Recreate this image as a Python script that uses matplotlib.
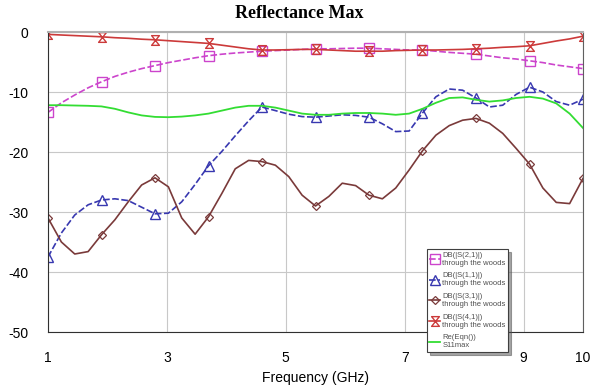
import numpy as np
import matplotlib
matplotlib.use("Agg")
import matplotlib.pyplot as plt
from matplotlib.path import Path

plt.rcParams["axes.unicode_minus"] = False

# frequency grid (GHz), markers sit on every 4th point
freq = np.linspace(1, 10, 41)

s21 = [-13.4, -11.8, -10.5, -9.3, -8.3, -7.4, -6.7, -6.1, -5.6, -5.1, -4.7, -4.3, -3.95, -3.7,
       -3.5, -3.35, -3.2, -3.1, -3.0, -2.9, -2.8, -2.8, -2.75, -2.7, -2.7, -2.8, -2.9, -3.0,
       -3.0, -3.2, -3.4, -3.55, -3.7, -4.0, -4.3, -4.5, -4.8, -5.1, -5.5, -5.8, -6.1]
s11 = [-37.5, -33.5, -30.5, -28.8, -28.0, -27.8, -28.1, -29.2, -30.3, -30.2, -28.3, -25.4, -22.3,
       -19.9, -17.3, -14.8, -12.5, -13.1, -13.7, -14.1, -14.2, -14.0, -13.8, -13.9, -14.2, -15.3,
       -16.6, -16.5, -13.5, -10.8, -9.5, -9.7, -11.0, -12.5, -12.2, -10.4, -9.2, -10.0, -11.6,
       -12.2, -11.2]
s31 = [-31.0, -35.0, -37.0, -36.6, -33.8, -31.3, -28.3, -25.5, -24.3, -25.8, -31.0, -33.7, -30.8,
       -26.9, -22.8, -21.4, -21.6, -22.2, -24.1, -27.2, -29.0, -27.4, -25.2, -25.6, -27.2, -27.8,
       -26.0, -23.0, -19.8, -17.2, -15.6, -14.7, -14.4, -15.2, -16.9, -19.4, -22.0, -26.0, -28.4,
       -28.6, -24.4]
s41 = [-0.4, -0.5, -0.6, -0.7, -0.8, -0.95, -1.05, -1.2, -1.3, -1.45, -1.6, -1.75, -1.9, -2.2,
       -2.5, -2.8, -3.0, -3.0, -2.95, -2.9, -2.9, -3.0, -3.1, -3.2, -3.2, -3.2, -3.1, -3.05, -3.0,
       -3.0, -2.95, -2.9, -2.8, -2.7, -2.55, -2.45, -2.3, -1.9, -1.5, -1.15, -0.7]
s11max = [-12.2, -12.2, -12.25, -12.3, -12.4, -12.8, -13.4, -13.9, -14.15, -14.2, -14.1, -13.9,
          -13.6, -13.1, -12.6, -12.3, -12.3, -12.6, -13.1, -13.6, -13.8, -13.8, -13.6, -13.5,
          -13.5, -13.6, -13.8, -13.6, -12.8, -11.8, -11.0, -10.9, -11.3, -11.6, -11.4, -11.0,
          -10.8, -11.1, -11.9, -13.6, -16.0]

labels = ["DB(|S(2,1)|)\nthrough the woods", "DB(|S(1,1)|)\nthrough the woods",
          "DB(|S(3,1)|)\nthrough the woods", "DB(|S(4,1)|)\nthrough the woods",
          "Re(Eqn())\nS11max"]
xticks = [1, 3, 5, 7, 9, 10]
yticks = [0, -10, -20, -30, -40, -50]

# hourglass marker
hourglass = Path([(-0.8, 1), (0.8, 1), (-0.8, -1), (0.8, -1), (-0.8, 1)],
                 [Path.MOVETO, Path.LINETO, Path.LINETO, Path.LINETO, Path.CLOSEPOLY])

fig = plt.figure(figsize=(5.9, 3.88), dpi=100)
ax = fig.add_axes([48 / 590, 1 - 332 / 388, 535 / 590, 300 / 388])

ax.plot(freq, s21, color="#cc44cc", lw=1.2, ls=(0, (4, 1.5)), marker="s", ms=7,
        mfc="none", mew=1.0, markevery=4, label=labels[0])
ax.plot(freq, s11, color="#3838b0", lw=1.2, ls=(0, (4, 1.5)), marker="^", ms=7,
        mfc="none", mew=1.0, markevery=4, label=labels[1])
ax.plot(freq, s31, color="#7a3a3a", lw=1.2, marker="D", ms=4.5,
        mfc="none", mew=0.9, markevery=4, label=labels[2])
ax.plot(freq, s41, color="#cc3a3a", lw=1.2, marker=hourglass, ms=7,
        mfc="none", mew=1.0, markevery=4, label=labels[3])
ax.plot(freq, s11max, color="#33dd33", lw=1.3, label=labels[4])

ax.set_xlim(1, 10)
ax.set_ylim(-50, 0)
ax.set_xticks(xticks)
ax.set_yticks(yticks)
ax.tick_params(length=0, labelsize=10, pad=14)
for t in ax.get_xticklabels() + ax.get_yticklabels():
    t.set_family("Liberation Sans")
ax.grid(color="#c8c8c8", lw=0.8)
ax.set_axisbelow(True)

ax.spines["top"].set_color("#b0b0b0")
ax.spines["top"].set_linewidth(1.5)
ax.spines["right"].set_color("#606060")
ax.spines["left"].set_color("#303030")
ax.spines["bottom"].set_color("#303030")

ax.set_xlabel("Frequency (GHz)", family="Liberation Sans", fontsize=10, labelpad=4)
fig.text(0.508, 0.964, "Reflectance Max", family="Liberation Serif", weight="bold",
         fontsize=13, ha="center", va="center")

leg = ax.legend(loc="upper left", bbox_to_anchor=(0.708, 0.277),
                prop={"family": "Liberation Sans", "size": 5.5}, frameon=True, fancybox=False,
                shadow=True, handlelength=1.4, handletextpad=0.3, labelspacing=0.75,
                borderpad=0.35, borderaxespad=0)
leg.get_frame().set_edgecolor("#404040")
leg.get_frame().set_linewidth(0.8)
for t in leg.get_texts():
    t.set_color("#505050")

fig.savefig("out.png", dpi=100)
